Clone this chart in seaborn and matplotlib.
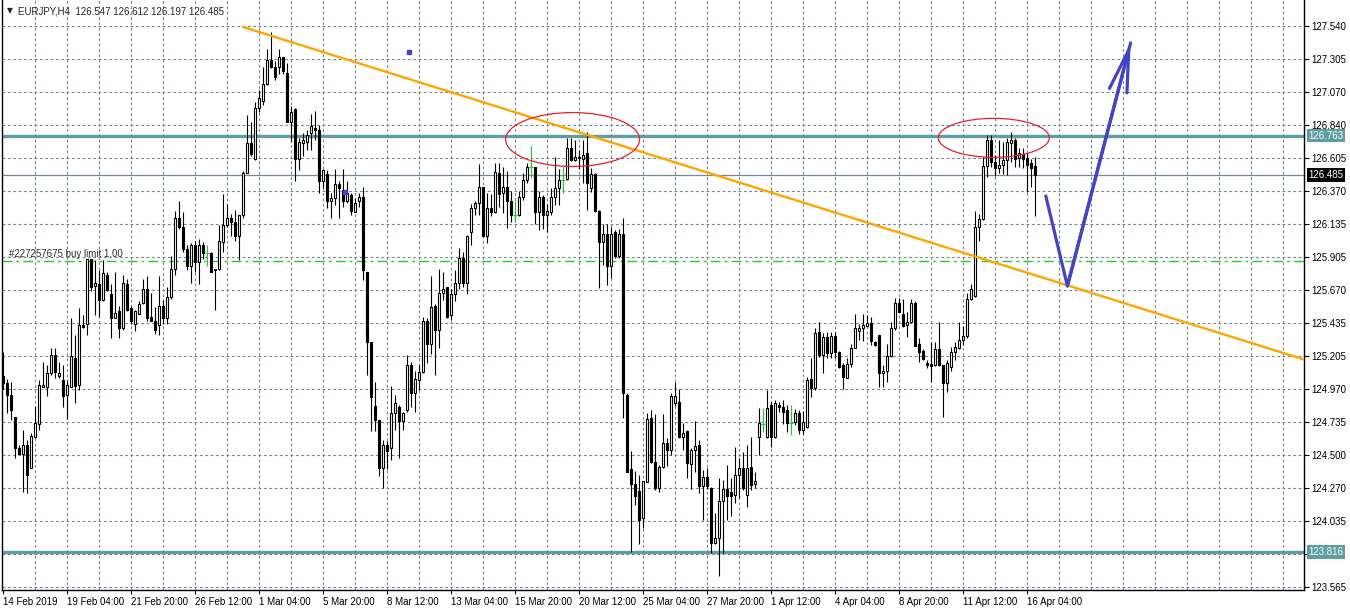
import numpy as np
import pandas as pd
import matplotlib
matplotlib.use("Agg")
import matplotlib.pyplot as plt
from matplotlib.patches import Ellipse
import seaborn as sns

sns.set_style("white")
plt.rcParams['font.family'] = ['Liberation Sans', 'DejaVu Sans']

# EURJPY H4 candles (bar 0 = 14 Feb 2019 12:00)
opens = [
    125.06, 125.01, 124.93, 124.77, 124.55, 124.51, 124.57, 124.41, 124.63, 124.72,
    124.98, 124.98, 125.08, 125.21, 125.06, 125.03, 124.93, 124.98, 125.19, 125.00,
    125.42, 125.43, 125.89, 125.70, 125.71, 125.60, 125.78, 125.64, 125.47, 125.52,
    125.40, 125.71, 125.54, 125.43, 125.50, 125.58, 125.68, 125.48, 125.45, 125.42,
    125.56, 125.47, 125.62, 125.82, 126.18, 126.12, 125.96, 125.84, 125.99, 125.87,
    125.99, 125.93, 125.93, 125.81, 125.82, 126.01, 126.13, 126.18, 126.15, 126.05,
    126.20, 126.50, 126.71, 126.60, 126.96, 127.01, 127.13, 127.30, 127.25, 127.25,
    127.32, 127.205, 126.86, 126.95, 126.60, 126.71, 126.72, 126.78, 126.82, 126.80,
    126.44, 126.49, 126.30, 126.32, 126.42, 126.38, 126.30, 126.34, 126.225, 126.30,
    126.33, 125.80, 125.30, 124.85, 124.75, 124.41, 124.57, 124.55, 124.80, 124.84,
    124.74, 124.82, 125.14, 124.94, 125.03, 125.09, 125.45, 125.285, 125.56, 125.39,
    125.65, 125.69, 125.49, 125.64, 125.72, 125.895, 125.72, 126.08, 126.25, 126.285,
    126.40, 126.055, 126.25, 126.22, 126.50, 126.355, 126.40, 126.30, 126.20, 126.20,
    126.33, 126.45, 126.54, 126.54, 126.22, 126.33, 126.20, 126.225, 126.327, 126.39,
    126.45, 126.454, 126.674, 126.59, 126.615, 126.60, 126.64, 126.39, 126.49, 126.23,
    126.008, 126.067, 125.843, 126.079, 125.913, 126.067, 124.927, 124.40, 124.294, 124.246,
    124.058, 124.313, 124.766, 124.45, 124.265, 124.414, 124.584, 124.537, 124.872, 124.879,
    124.631, 124.67, 124.436, 124.537, 124.573, 124.282, 124.348, 124.27, 123.876, 123.911,
    124.176, 124.261, 124.237, 124.218, 124.36, 124.41, 124.218, 124.419, 124.294, 124.631,
    124.72, 124.631, 124.856, 124.631, 124.856, 124.844, 124.82, 124.73, 124.738, 124.797,
    124.679, 124.702, 125.04, 124.974, 125.375, 125.21, 125.335, 125.221, 125.347, 125.229,
    125.139, 125.045, 125.144, 125.262, 125.382, 125.399, 125.418, 125.434, 125.30, 125.351,
    125.08, 125.099, 125.203, 125.399, 125.576, 125.498, 125.422, 125.446, 125.576, 125.285,
    125.238, 125.151, 125.146, 125.139, 125.25, 125.139, 125.009, 125.127, 125.234, 125.262,
    125.316, 125.344, 125.606, 125.63, 126.114, 126.171, 126.549, 126.733, 126.58, 126.532,
    126.556, 126.59, 126.709, 126.733, 126.603, 126.631, 126.603, 126.567, 126.547,
]
highs = [
    125.23, 125.04, 125.02, 124.77, 124.57, 124.68, 124.61, 124.66, 124.85, 125.03,
    125.16, 125.14, 125.26, 125.26, 125.16, 125.14, 125.03, 125.47, 125.35, 125.54,
    125.49, 125.89, 125.89, 125.88, 125.81, 125.88, 125.80, 125.71, 125.80, 125.56,
    125.78, 125.75, 125.56, 125.53, 125.59, 125.75, 125.77, 125.65, 125.55, 125.77,
    125.60, 125.69, 125.91, 126.23, 126.30, 126.22, 125.99, 126.00, 126.02, 126.03,
    126.01, 125.99, 125.94, 125.82, 126.13, 126.35, 126.28, 126.21, 126.24, 126.20,
    126.51, 126.91, 126.86, 127.00, 127.09, 127.25, 127.38, 127.50, 127.29, 127.38,
    127.32, 127.275, 126.97, 126.96, 126.75, 126.78, 126.80, 126.915, 126.94, 126.84,
    126.525, 126.52, 126.355, 126.525, 126.44, 126.525, 126.44, 126.355, 126.32, 126.36,
    126.40, 125.80, 125.30, 125.02, 124.75, 124.61, 124.60, 124.99, 124.93, 124.855,
    124.81, 125.21, 125.16, 125.10, 125.14, 125.48, 125.47, 125.77, 125.57, 125.82,
    125.80, 125.69, 125.68, 125.815, 125.966, 125.94, 126.06, 126.28, 126.30, 126.56,
    126.40, 126.355, 126.35, 126.57, 126.57, 126.54, 126.51, 126.37, 126.32, 126.37,
    126.497, 126.57, 126.69, 126.544, 126.374, 126.34, 126.277, 126.39, 126.615, 126.525,
    126.54, 126.749, 126.745, 126.733, 126.66, 126.733, 126.79, 126.532, 126.50, 126.237,
    126.135, 126.135, 126.119, 126.095, 126.102, 126.178, 124.938, 124.53, 124.39, 124.36,
    124.317, 124.797, 124.82, 124.79, 124.431, 124.79, 124.624, 124.938, 125.016, 124.969,
    124.726, 124.68, 124.549, 124.742, 124.608, 124.396, 124.41, 124.277, 124.088, 124.336,
    124.324, 124.431, 124.336, 124.561, 124.478, 124.52, 124.573, 124.631, 124.384, 124.832,
    124.832, 124.962, 124.879, 124.891, 124.879, 124.891, 124.856, 124.856, 124.825, 124.82,
    124.813, 125.056, 125.186, 125.399, 125.446, 125.363, 125.375, 125.375, 125.37, 125.24,
    125.151, 125.186, 125.285, 125.50, 125.43, 125.50, 125.493, 125.481, 125.309, 125.351,
    125.14, 125.285, 125.446, 125.611, 125.616, 125.606, 125.517, 125.604, 125.595, 125.328,
    125.25, 125.175, 125.304, 125.304, 125.446, 125.139, 125.175, 125.269, 125.304, 125.446,
    125.415, 125.647, 125.71, 126.23, 126.206, 126.61, 126.768, 126.768, 126.627, 126.733,
    126.716, 126.745, 126.787, 126.749, 126.674, 126.678, 126.638, 126.596, 126.612,
]
lows = [
    124.97, 124.80, 124.75, 124.48, 124.51, 124.24, 124.23, 124.41, 124.62, 124.68,
    124.98, 124.92, 125.07, 125.05, 125.05, 124.84, 124.76, 124.98, 124.87, 124.96,
    125.40, 125.35, 125.66, 125.49, 125.48, 125.59, 125.66, 125.33, 125.47, 125.33,
    125.39, 125.52, 125.43, 125.38, 125.50, 125.57, 125.45, 125.45, 125.36, 125.35,
    125.43, 125.43, 125.61, 125.78, 126.10, 125.94, 125.81, 125.72, 125.80, 125.71,
    125.89, 125.84, 125.80, 125.53, 125.81, 125.94, 126.12, 126.05, 126.02, 125.88,
    126.18, 126.50, 126.62, 126.59, 126.93, 126.98, 127.12, 127.24, 127.16, 127.20,
    127.20, 126.86, 126.72, 126.44, 126.52, 126.62, 126.66, 126.66, 126.73, 126.355,
    126.39, 126.25, 126.18, 126.27, 126.18, 126.26, 126.29, 126.20, 126.22, 126.26,
    125.74, 125.07, 124.67, 124.67, 124.355, 124.27, 124.40, 124.47, 124.68, 124.48,
    124.68, 124.81, 124.84, 124.81, 124.96, 125.08, 125.155, 125.22, 125.07, 125.26,
    125.60, 125.47, 125.46, 125.59, 125.68, 125.69, 125.64, 125.99, 126.20, 126.20,
    126.05, 126.00, 126.195, 126.215, 126.26, 126.215, 126.11, 126.155, 126.155, 126.197,
    126.31, 126.426, 126.46, 126.14, 126.095, 126.10, 126.084, 126.20, 126.27, 126.272,
    126.355, 126.45, 126.584, 126.586, 126.53, 126.426, 126.24, 126.367, 126.225, 125.687,
    125.847, 125.706, 125.753, 125.90, 125.894, 124.766, 124.379, 123.817, 124.147, 123.869,
    123.987, 124.308, 124.443, 124.254, 124.242, 124.407, 124.426, 124.502, 124.85, 124.624,
    124.537, 124.34, 124.261, 124.384, 124.23, 124.041, 124.261, 123.805, 123.869, 123.647,
    123.806, 124.041, 124.072, 124.159, 124.195, 124.254, 124.136, 124.254, 124.265, 124.50,
    124.667, 124.624, 124.561, 124.624, 124.809, 124.72, 124.667, 124.643, 124.714, 124.648,
    124.648, 124.69, 124.915, 124.962, 125.198, 125.085, 125.186, 125.19, 125.186, 125.12,
    124.967, 125.045, 125.127, 125.257, 125.316, 125.309, 125.41, 125.28, 125.276, 124.986,
    124.986, 125.021, 125.198, 125.387, 125.512, 125.41, 125.34, 125.434, 125.274, 125.158,
    125.175, 125.116, 125.021, 125.134, 125.134, 124.773, 124.95, 125.097, 125.175, 125.252,
    125.281, 125.333, 125.60, 125.623, 126.02, 126.166, 126.473, 126.544, 126.48, 126.497,
    126.492, 126.485, 126.575, 126.544, 126.544, 126.532, 126.367, 126.402, 126.197,
]
closes = [
    125.01, 124.93, 124.82, 124.55, 124.51, 124.57, 124.36, 124.64, 124.73, 125.00,
    125.00, 125.08, 125.21, 125.09, 125.08, 124.92, 125.00, 125.20, 124.99, 125.42,
    125.41, 125.89, 125.69, 125.72, 125.60, 125.79, 125.67, 125.47, 125.51, 125.40,
    125.72, 125.53, 125.45, 125.52, 125.57, 125.68, 125.47, 125.45, 125.39, 125.56,
    125.47, 125.62, 125.82, 126.18, 126.12, 125.96, 125.84, 125.99, 125.87, 125.99,
    125.93, 125.93, 125.80, 125.82, 126.02, 126.13, 126.18, 126.15, 126.05, 126.20,
    126.50, 126.71, 126.63, 126.96, 127.03, 127.13, 127.30, 127.25, 127.18, 127.32,
    127.22, 126.86, 126.93, 126.60, 126.72, 126.73, 126.77, 126.835, 126.80, 126.44,
    126.52, 126.30, 126.325, 126.42, 126.39, 126.30, 126.355, 126.23, 126.285, 126.33,
    125.81, 125.30, 124.91, 124.75, 124.41, 124.57, 124.53, 124.80, 124.87, 124.74,
    124.80, 125.14, 124.94, 125.04, 125.09, 125.45, 125.285, 125.55, 125.39, 125.65,
    125.675, 125.48, 125.64, 125.72, 125.895, 125.72, 126.05, 126.25, 126.285, 126.40,
    126.055, 126.25, 126.22, 126.504, 126.35, 126.40, 126.30, 126.20, 126.20, 126.33,
    126.45, 126.544, 126.54, 126.22, 126.327, 126.20, 126.23, 126.33, 126.39, 126.45,
    126.45, 126.674, 126.59, 126.61, 126.605, 126.627, 126.426, 126.49, 126.23, 126.008,
    126.067, 125.843, 126.067, 125.913, 126.067, 124.938, 124.384, 124.294, 124.214, 124.041,
    124.317, 124.754, 124.45, 124.265, 124.414, 124.584, 124.537, 124.92, 124.92, 124.631,
    124.655, 124.447, 124.537, 124.568, 124.282, 124.348, 124.284, 123.876, 123.911, 124.176,
    124.261, 124.214, 124.214, 124.36, 124.407, 124.265, 124.41, 124.289, 124.317, 124.726,
    124.72, 124.837, 124.631, 124.868, 124.844, 124.804, 124.726, 124.73, 124.797, 124.679,
    124.733, 125.033, 124.974, 125.363, 125.21, 125.335, 125.226, 125.347, 125.229, 125.127,
    125.056, 125.144, 125.262, 125.399, 125.399, 125.422, 125.434, 125.309, 125.281, 125.08,
    125.099, 125.203, 125.399, 125.576, 125.517, 125.418, 125.446, 125.576, 125.276, 125.234,
    125.179, 125.139, 125.134, 125.25, 125.139, 125.009, 125.151, 125.234, 125.269, 125.316,
    125.344, 125.606, 125.677, 126.119, 126.171, 126.551, 126.733, 126.575, 126.532, 126.556,
    126.59, 126.716, 126.733, 126.596, 126.638, 126.596, 126.556, 126.532, 126.485,
]

price_ticks = [127.540, 127.305, 127.070, 126.840, 126.605, 126.370, 126.135, 125.905,
               125.670, 125.435, 125.205, 124.970, 124.735, 124.500, 124.270, 124.035,
               123.800, 123.565]
date_labels = ['14 Feb 2019', '19 Feb 04:00', '21 Feb 20:00', '26 Feb 12:00', '1 Mar 04:00',
               '5 Mar 20:00', '8 Mar 12:00', '13 Mar 04:00', '15 Mar 20:00', '20 Mar 12:00',
               '25 Mar 04:00', '27 Mar 20:00', '1 Apr 12:00', '4 Apr 04:00', '8 Apr 20:00',
               '11 Apr 12:00', '16 Apr 04:00']
levels = [126.763, 123.816]
bid = 126.485
order_price = 125.876
order_text = '#227257675 buy limit 1.00'

# drawn objects (bar index, price)
trend_a = (60, 127.533)
trend_b = (266.25, 125.702)
arrow_pts = [(260.7, 126.336), (266.1, 125.699), (281.9, 127.42)]
ellipses = [(142.4, 126.736, 33.5, 0.382), (247.7, 126.748, 27.75, 0.276)]
dots = [(101.5, 127.356), (85.5, 126.364)]

df = pd.DataFrame({'open': opens, 'high': highs, 'low': lows, 'close': closes})
df['bar'] = np.arange(len(df))
up = df[df.close > df.open]
dn = df[df.close < df.open]
dj = df[df.close == df.open]
stick = df[df.close != df.open]

grid_c = '#778899'
teal = '#5f9ea0'
blue = '#4343c8'
lime = '#22cc22'

fig = plt.figure(figsize=(13.5, 6.11), dpi=100)
ax = fig.add_axes([2 / 1350, 21 / 611, 1302 / 1350, 590 / 611])
xmax = 325.25
ax.set_xlim(-0.25, xmax)
ax.set_ylim(123.546, 127.724)

# grid
for gx in range(8, 321, 8):
    ax.axvline(gx, color=grid_c, lw=0.8, dashes=(2.6, 2.2), zorder=1)
for gy in price_ticks:
    ax.axhline(gy, color=grid_c, lw=0.8, dashes=(2.6, 2.2), zorder=1)

# candles
ax.vlines(stick.bar, stick.low, stick.high, color='black', lw=0.8, zorder=3)
ax.bar(up.bar, up.close - up.open, bottom=up.open, width=0.5, color='white',
       edgecolor='black', lw=0.8, zorder=4)
ax.bar(dn.bar, dn.open - dn.close, bottom=dn.close, width=0.5, color='black',
       edgecolor='black', lw=0.8, zorder=4)
ax.vlines(dj.bar, dj.low, dj.high, color=lime, lw=0.8, zorder=3)
ax.hlines(dj.open, dj.bar - 0.4, dj.bar + 0.4, color=lime, lw=0.8, zorder=3)

# horizontal levels
for lv in levels:
    ax.axhline(lv, color=teal, lw=2.4, zorder=2)
ax.axhline(bid, color=grid_c, lw=0.9, zorder=2)
ax.axhline(order_price, color=lime, lw=1.0, dashes=(7, 3, 2, 3), zorder=2)
ax.text(1.5, order_price + 0.012, order_text, fontsize=7, color='#303030',
        va='bottom', ha='left', zorder=6)

# trend line
slope = (trend_b[1] - trend_a[1]) / (trend_b[0] - trend_a[0])
tx = [trend_a[0], xmax]
ty = [trend_a[1], trend_a[1] + slope * (xmax - trend_a[0])]
sns.lineplot(x=tx, y=ty, color='#ffa500', lw=1.7, ax=ax, zorder=5)

# ellipses
for ex, ey, ew, eh in ellipses:
    ax.add_patch(Ellipse((ex, ey), ew, eh, fill=False, edgecolor='#e8202a', lw=0.9, zorder=6))

# blue arrow
apx = [p[0] for p in arrow_pts]
apy = [p[1] for p in arrow_pts]
sns.lineplot(x=apx, y=apy, sort=False, estimator=None, color=blue, lw=2.3, ax=ax, zorder=7)
ax.annotate('', xy=arrow_pts[2], xytext=arrow_pts[1],
            arrowprops=dict(arrowstyle='->,head_length=3.0,head_width=0.65',
                            color=blue, lw=2.3, shrinkA=0, shrinkB=0), zorder=7)
for dx, dy in dots:
    ax.plot(dx, dy, 's', ms=2.6, color=blue, zorder=7)

# axes styling
for s in ['left', 'right', 'bottom']:
    ax.spines[s].set_color('black')
    ax.spines[s].set_linewidth(1.0)
ax.spines['top'].set_visible(False)
ax.grid(False)

ax.yaxis.tick_right()
ax.set_yticks(price_ticks)
ax.set_yticklabels([('%.3f' % p) if p != 123.800 else '' for p in price_ticks])
ax.tick_params(axis='y', right=True, left=False, direction='out', length=3.5,
               width=0.8, pad=2, labelsize=7, colors='black')
ax.set_xticks(np.arange(len(date_labels)) * 16)
ax.set_xticklabels(date_labels, ha='left')
ax.tick_params(axis='x', bottom=True, direction='out', length=3, width=0.8,
               pad=2, labelsize=7, colors='black')
ax.set_xlabel('')
ax.set_ylabel('')

# right side price boxes
ytr = ax.get_yaxis_transform()
for lv in levels:
    ax.text(1.0035, lv, '%.3f' % lv, transform=ytr, fontsize=7, color='white', va='center',
            ha='left', clip_on=False, zorder=10,
            bbox=dict(boxstyle='square,pad=0.18', facecolor=teal, edgecolor='none'))
ax.text(1.0035, bid, '%.3f' % bid, transform=ytr, fontsize=7, color='white', va='center',
        ha='left', clip_on=False, zorder=10,
        bbox=dict(boxstyle='square,pad=0.18', facecolor='black', edgecolor='none'))

# header
last = df.iloc[-1]
fig.text(7 / 1350, 1 - 11 / 611, '\u25bc', fontsize=5.5, va='center', ha='left',
         family='DejaVu Sans')
fig.text(18 / 1350, 1 - 11 / 611, 'EURJPY,H4  %.3f %.3f %.3f %.3f'
         % (last.open, last.high, last.low, last.close),
         fontsize=7, va='center', ha='left')

fig.savefig('out.png', dpi=100)
